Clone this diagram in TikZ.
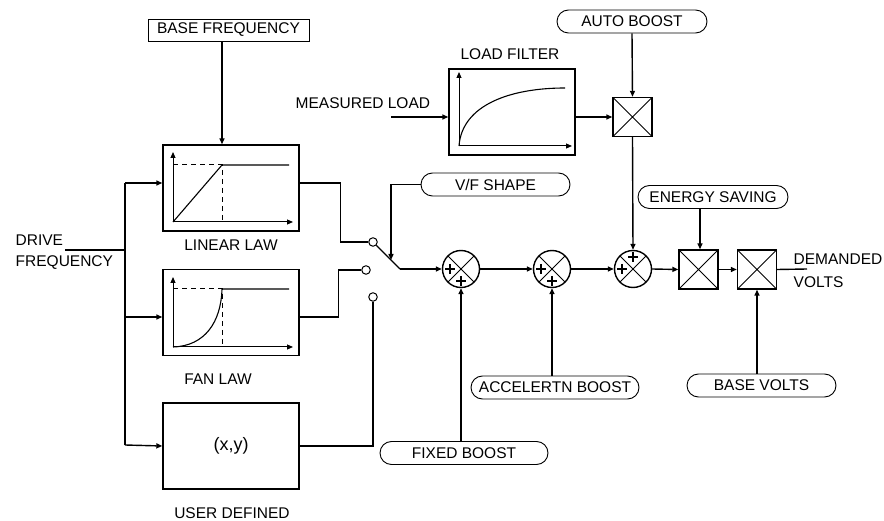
\documentclass[tikz,border=0pt]{standalone}
\usepackage{fontspec}
\setmainfont{Liberation Sans}
\usetikzlibrary{arrows.meta,shapes.misc}
\begin{document}
\begin{tikzpicture}[x=1pt,y=-1pt,
  font=\fontsize{15.5}{17}\selectfont, line width=1.4pt,
  arr/.style={-{Triangle[length=6pt,width=5pt]}},
  blk/.style={draw, rectangle, minimum width=136pt, minimum height=86pt, inner sep=0pt},
  pill/.style={draw, rounded rectangle, line width=0.9pt, inner sep=0pt, minimum height=23pt},
  sqbox/.style={draw, rectangle, inner sep=0pt},
  mult/.style={draw, rectangle, minimum size=39pt, inner sep=0pt,
    path picture={\draw[line width=1pt] (path picture bounding box.north west) -- (path picture bounding box.south east)
      (path picture bounding box.north east) -- (path picture bounding box.south west);}},
  sumj/.style={draw, circle, minimum size=37pt, inner sep=0pt,
    path picture={\draw[line width=1pt] (path picture bounding box.north west) -- (path picture bounding box.south east)
      (path picture bounding box.north east) -- (path picture bounding box.south west);}},
  contact/.style={draw, circle, minimum size=8.5pt, inner sep=0pt, line width=1pt, fill=white},
  lbl/.style={inner sep=0pt},
  dsh/.style={line width=1pt, dash pattern=on 5pt off 4pt},
  plus/.pic={\draw[line width=1.1pt] (-5,0)--(5,0) (0,-5)--(0,5);}
]
\useasboundingbox (0,0) rectangle (884,521);

% input labels
\node[sqbox, minimum width=161pt, minimum height=22pt, line width=0.9pt] (bf) at (228.5,30) {BASE FREQUENCY};
\node[lbl, anchor=west] (drv) at (15,240) {DRIVE};
\node[lbl, anchor=west] (frq) at (15,263) {FREQUENCY};
\node[lbl, anchor=west] (ml) at (295,103) {MEASURED LOAD};

% law blocks
\node[blk] (L) at (231,188) {};
\node[blk] (F) at (231,312.5) {};
\node[blk, font=\fontsize{18}{20}\selectfont] (U) at (231,446) {(x,y)};
\node[lbl] (Llbl) at (231,245) {LINEAR LAW};
\node[lbl] (Flbl) at (218,379) {FAN LAW};
\node[lbl] (Ulbl) at (232,513) {USER DEFINED};

% linear law graph
\draw[arr, line width=1pt] (173,222) -- (173,152);
\draw[arr, line width=1pt] (173,222) -- (293,222);
\draw[dsh] (173,165) -- (222,165) -- (222,222);
\draw[line width=1.1pt] (173,222) -- (222,165) -- (289,165);

% fan law graph
\draw[arr, line width=1pt] (173,347) -- (173,277);
\draw[arr, line width=1pt] (173,347) -- (293,347);
\draw[dsh] (173,289) -- (222,289) -- (222,347);
\draw[line width=1.1pt] (173,347) .. controls (205,346) and (221,322) .. (222,289) -- (289,289);

% load filter
\node[blk, minimum width=126pt, minimum height=86pt] (LF) at (512,112) {};
\node[lbl] (LFlbl) at (510,54) {LOAD FILTER};
\draw[arr, line width=1pt] (459,146) -- (459,72);
\draw[arr, line width=1pt] (459,146) -- (572,146);
\draw[line width=1.1pt] (459,146) .. controls (462,105) and (510,88) .. (565,88);

% pills
\node[pill, minimum width=150pt] (ab) at (632,21.5) {AUTO BOOST};
\node[pill, minimum width=149pt] (vf) at (495.5,184.5) {V/F SHAPE};
\node[pill, minimum width=150pt] (es) at (713,197) {ENERGY SAVING};
\node[pill, minimum width=168pt] (acc) at (555,387.5) {ACCELERTN BOOST};
\node[pill, minimum width=149pt] (bv) at (761.5,385.5) {BASE VOLTS};
\node[pill, minimum width=168pt] (fb) at (464,453) {FIXED BOOST};

% multipliers and sums
\node[mult] (m0) at (632.5,117) {};
\node[sumj] (s1) at (461,269) {};
\node[sumj] (s2) at (552,269) {};
\node[sumj] (s3) at (633,269) {};
\node[mult] (m1) at (698.5,269.5) {};
\node[mult] (m2) at (757,269.5) {};
\pic at ([xshift=-11pt]s1.center) {plus};
\pic at ([yshift=-12pt]s1.center) {plus};
\pic at ([xshift=-11pt]s2.center) {plus};
\pic at ([yshift=-12pt]s2.center) {plus};
\pic at ([xshift=-11pt]s3.center) {plus};
\pic at ([yshift=12pt]s3.center) {plus};

% switch contacts
\node[contact] (c1) at (373,242) {};
\node[contact] (c2) at (366,270) {};
\node[contact] (c3) at (373,297) {};
\coordinate (bl) at (400,269);
\coordinate (vfa) at (391,260);

% output labels
\node[lbl, anchor=west] (dv1) at (793,259) {DEMANDED};
\node[lbl, anchor=west] (dv2) at (793,282) {VOLTS};
\coordinate (dvend) at (807,269);

% drive frequency bus
\coordinate (dfs) at (65,250);
\coordinate (bus0) at (125,250);
\coordinate (busT) at (125,183);
\coordinate (busF) at (125,317);
\coordinate (busB) at (125,445);
\draw (dfs) -- (bus0);
\draw (busT) -- (busB);
\draw[arr] (busT) -- ([yshift=5pt]L.west);
\draw[arr] (busF) -- ([yshift=-4.5pt]F.west);
\draw[arr] (busB) -- (U.west);

% base frequency
\draw[arr] ([xshift=-6.5pt]bf.south) -- ([xshift=-9pt]L.north);

% law outputs to switch
\draw ([yshift=5pt]L.east) -- ++(41,0) |- (c1.west);
\draw ([yshift=-4.5pt]F.east) -- ++(39,0) |- (c2.west);
\draw (U.east) -| (c3.south);

% switch blade
\draw (c1.south east) -- (bl);
\draw[arr] (bl) -- (s1.west);
\draw[arr] (vf.west) -| (vfa);

% load path
\coordinate (mls) at (391,117);
\draw[arr] (mls) -- ([yshift=-5pt]LF.west);
\draw[arr] ([yshift=-5pt]LF.east) -- (m0.west);
\draw[arr] (ab.south) -- (m0.north);
\draw[arr] (m0.south) -- (s3.north);

% main chain
\draw[arr] (s1.east) -- (s2.west);
\draw[arr] (s2.east) -- (s3.west);
\draw[arr] (s3.east) -- (m1.west);
\draw[arr] (m1.east) -- (m2.west);
\draw (m2.east) -- (dvend);

% boosts
\coordinate (fbt) at (461,442);
\coordinate (acct) at (552,376);
\coordinate (esb) at (700,208.5);
\coordinate (bvt) at (757,374);
\draw[arr] (fbt) -- (s1.south);
\draw[arr] (acct) -- (s2.south);
\draw[arr] (esb) -- ([xshift=1.5pt]m1.north);
\draw[arr] (bvt) -- (m2.south);
\end{tikzpicture}
\end{document}
